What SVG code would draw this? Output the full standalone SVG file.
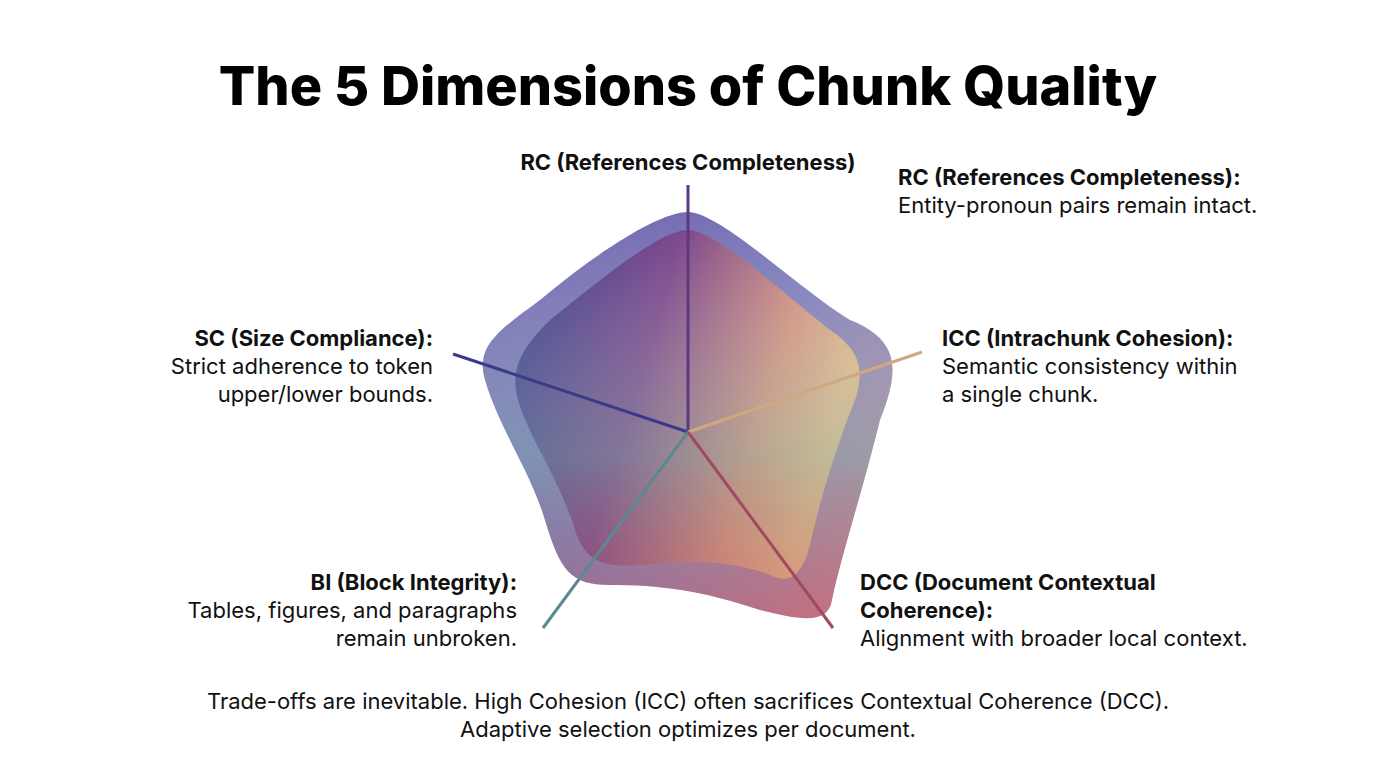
<svg xmlns="http://www.w3.org/2000/svg" width="1376" height="768" viewBox="0 0 1376 768">
<defs>
<linearGradient id="g1" x1="0" y1="0" x2="1" y2="1">
<stop offset="0" stop-color="#4a3a98"/>
<stop offset="0.5" stop-color="#5a5aa8"/>
<stop offset="1" stop-color="#c86a70"/>
</linearGradient>
<linearGradient id="g2" x1="0" y1="0" x2="1" y2="0.3">
<stop offset="0" stop-color="#1a2a80"/>
<stop offset="0.45" stop-color="#7a3a80"/>
<stop offset="0.8" stop-color="#e09070"/>
<stop offset="1" stop-color="#f0c080"/>
</linearGradient>
<linearGradient id="g3" x1="0" y1="0" x2="0" y2="1">
<stop offset="0" stop-color="#ffffff" stop-opacity="0"/>
<stop offset="0.6" stop-color="#8ac0b0" stop-opacity="0.4"/>
<stop offset="1" stop-color="#c04050" stop-opacity="0.3"/>
</linearGradient>
<style>
.t{font-family:Inter,"Liberation Sans",sans-serif;font-size:22px;fill:#111}
.b{font-weight:700}
.ax{stroke-width:3;fill:none}
</style>
</defs>
<rect width="1376" height="768" fill="#fff"/>
<text x="688" y="105" text-anchor="middle" style="font-family:Inter,'Liberation Sans',sans-serif;font-size:54px;font-weight:800;fill:#000">The 5 Dimensions of Chunk Quality</text>
<g id="radar">
<path d="M688 212 C720 212 800 290 850 320 C900 340 900 370 880 420 C860 500 840 560 832 600 C828 625 800 620 760 610 C700 590 660 585 610 585 C570 585 560 570 545 520 C530 470 500 430 485 380 C475 345 500 330 540 300 C600 250 660 212 688 212 Z" fill="url(#g1)" opacity="0.8"/>
<path d="M688 230 C715 230 780 290 830 330 C860 350 865 370 855 400 C835 450 820 500 810 545 C802 575 790 585 770 575 C730 560 690 560 640 565 C600 568 585 560 575 530 C560 480 530 440 518 400 C510 370 520 350 550 320 C600 280 660 230 688 230 Z" fill="url(#g2)" opacity="0.85"/>
<path d="M688 212 C720 212 800 290 850 320 C900 340 900 370 880 420 C860 500 840 560 832 600 C828 625 800 620 760 610 C700 590 660 585 610 585 C570 585 560 570 545 520 C530 470 500 430 485 380 C475 345 500 330 540 300 C600 250 660 212 688 212 Z" fill="url(#g3)"/>
</g>
<g id="connectors">
<line class="ax" x1="688" y1="432" x2="688" y2="185" stroke="#5a3a80"/>
<line class="ax" x1="688" y1="432" x2="453" y2="354" stroke="#3a3a8a"/>
<line class="ax" x1="688" y1="432" x2="922" y2="352" stroke="#d0a880"/>
<line class="ax" x1="688" y1="432" x2="543" y2="628" stroke="#5a8a90"/>
<line class="ax" x1="688" y1="432" x2="833" y2="628" stroke="#a04a60"/>
</g>
<g id="rc-label"><text class="t b" x="688" y="170" text-anchor="middle">RC (References Completeness)</text></g>
<g id="rc"><text class="t" x="898" y="185"><tspan class="b">RC (References Completeness):</tspan><tspan x="898" dy="28">Entity-pronoun pairs remain intact.</tspan></text></g>
<g id="icc"><text class="t" x="942" y="346"><tspan class="b">ICC (Intrachunk Cohesion):</tspan><tspan x="942" dy="28">Semantic consistency within</tspan><tspan x="942" dy="28">a single chunk.</tspan></text></g>
<g id="sc"><text class="t" x="433" y="346" text-anchor="end"><tspan class="b">SC (Size Compliance):</tspan><tspan x="433" dy="28">Strict adherence to token</tspan><tspan x="433" dy="28">upper/lower bounds.</tspan></text></g>
<g id="bi"><text class="t" x="517" y="590" text-anchor="end"><tspan class="b">BI (Block Integrity):</tspan><tspan x="517" dy="28">Tables, figures, and paragraphs</tspan><tspan x="517" dy="28">remain unbroken.</tspan></text></g>
<g id="dcc"><text class="t" x="860" y="590"><tspan class="b">DCC (Document Contextual</tspan><tspan class="b" x="860" dy="28">Coherence):</tspan><tspan x="860" dy="28">Alignment with broader local context.</tspan></text></g>
<g id="footer"><text class="t" x="688" y="709" text-anchor="middle">Trade-offs are inevitable. High Cohesion (ICC) often sacrifices Contextual Coherence (DCC).<tspan x="688" dy="28">Adaptive selection optimizes per document.</tspan></text></g>
</svg>
